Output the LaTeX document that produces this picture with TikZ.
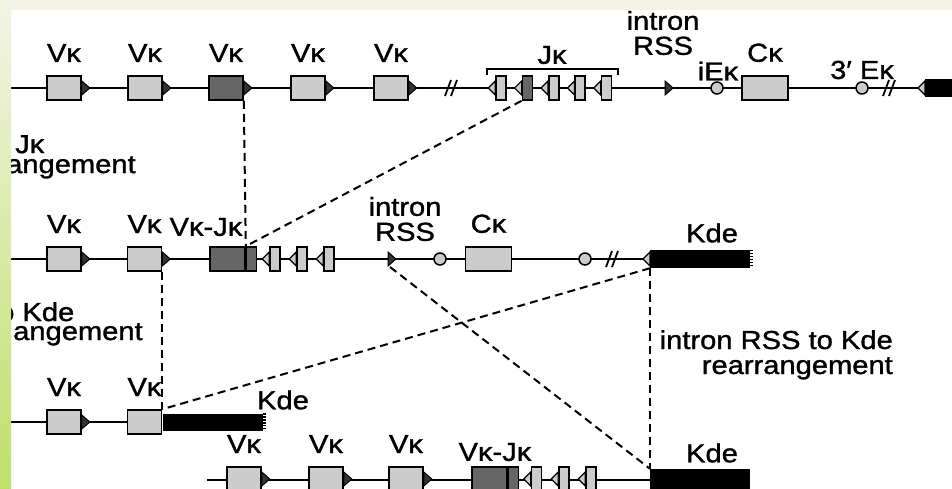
\documentclass[tikz,border=0pt]{standalone}
\usepackage{fontspec}
\setmainfont{Liberation Sans}[FakeStretch=1.12, FakeBold=1.2]
\usetikzlibrary{positioning}

\definecolor{exonlight}{gray}{0.80}
\definecolor{exondark}{gray}{0.40}
\definecolor{slidegreen}{RGB}{190,224,105}
\definecolor{slidetop}{RGB}{243,244,230}

\begin{document}
\begin{tikzpicture}[
  x=1pt, y=-1pt,
  font=\fontsize{26}{25}\selectfont,
  dna/.style={line width=2pt},
  vseg/.style={draw, line width=1.6pt, fill=exonlight, minimum width=34pt, minimum height=24pt, inner sep=0pt},
  vdark/.style={vseg, fill=exondark},
  jseg/.style={vseg, minimum width=10pt},
  jdark/.style={jseg, fill=exondark},
  cseg/.style={vseg, minimum width=46pt},
  kde/.style={fill=black, minimum width=100pt, minimum height=18pt, inner sep=0pt, anchor=west},
  enh/.style={circle, draw, line width=1.5pt, fill=exonlight, minimum size=12pt, inner sep=0pt},
  link/.style={line width=2pt, dash pattern=on 8pt off 5pt},
  lbl/.style={inner sep=0pt},
  rssr/.pic={\filldraw[line width=1pt, fill=black!80] (0,-7) -- (8,0) -- (0,7) -- cycle;},
  rssl/.pic={\filldraw[line width=1.2pt, fill=exonlight] (0,-7) -- (-7,0) -- (0,7) -- cycle;},
  brk/.pic={\draw[line width=1.8pt] (-7,8) -- (-1,-8) (-1,8) -- (5,-8);}
]
\useasboundingbox (0,0) rectangle (952,489);
\fill[white] (0,0) rectangle (952,489);

% germline locus
\draw[dna] (11,88) -- (925,88);
\foreach \x/\n/\s in {64/1/vseg,145/2/vseg,226/3/vdark,308/4/vseg,391/5/vseg} {
  \node[\s] (v1\n) at (\x,88) {};
  \pic at (v1\n.east) {rssr};
  \node[lbl, above=13pt of v1\n] {Vκ};
}
\pic at (452,88) {brk};
\foreach \k/\s in {0/jseg,1/jdark,2/jseg,3/jseg,4/jseg} {
  \node[\s] (j1\k) at ({501+26.4*\k},88) {};
  \pic at (j1\k.west) {rssl};
}
\draw[line width=1.6pt] (487,75) -- (487,69) -- (618,69) -- (618,75);
\node[lbl] at (552,55) {Jκ};
\pic at (665,88) {rssr};
\node[lbl, align=center] at (663,33) {intron\\RSS};
\node[enh] (ie1) at (717,88) {};
\node[lbl] at (718,71) {iEκ};
\node[cseg] (c1) at (765,88) {};
\node[lbl, above=13pt of c1] {Cκ};
\node[enh] (e31) at (862,88) {};
\node[lbl] at (862,70) {3′ Eκ};
\pic at (890,88) {brk};
\pic at (925,88) {rssl};
\node[kde, minimum width=30pt] (kde1) at (925,88) {};

% V-J rearranged
\draw[dna] (11,259) -- (650,259);
\foreach \x/\n in {64/1,144.5/2} {
  \node[vseg] (v2\n) at (\x,259) {};
  \pic at (v2\n.east) {rssr};
  \node[lbl, above=13pt of v2\n] {Vκ};
}
\node[vdark, minimum width=35pt] (vj2v) at (227.5,259) {};
\node[jdark, right=0pt of vj2v] (vj2j) {};
\node[lbl] at (206,227) {Vκ-Jκ};
\foreach \x/\n in {275/1,302/2,329/3} {
  \node[jseg] (j2\n) at (\x,259) {};
  \pic at (j2\n.west) {rssl};
}
\pic at (388,259) {rssr};
\coordinate (irss2) at (390,267);
\node[lbl, align=center] at (405,219) {intron\\RSS};
\node[enh] (ie2) at (440,259) {};
\node[cseg] (c2) at (488.5,259) {};
\node[lbl, above=13pt of c2] {Cκ};
\node[enh] (e32) at (585,259) {};
\pic at (613,259) {brk};
\pic at (650,259) {rssl};
\node[kde] (kde2) at (650,259) {};
\foreach \k in {0,...,5} \fill (kde2.north east) ++(0,{3*\k}) rectangle ++(3,1.5);
\node[lbl] at (712,233) {Kde};

% V to Kde
\draw[dna] (11,422) -- (144.5,422);
\node[vseg] (v31) at (64,422) {};
\pic at (v31.east) {rssr};
\node[vseg] (v32) at (144.5,422) {};
\node[lbl, above=13pt of v31] {Vκ};
\node[lbl, above=13pt of v32] {Vκ};
\node[kde, minimum height=17pt] (kde3) at (v32.east) {};
\foreach \k in {0,...,5} \fill (kde3.north east) ++(0,{2.9*\k}) rectangle ++(3,1.5);
\node[lbl] at (283,400) {Kde};

% intron RSS to Kde
\draw[dna] (207,480) -- (650,480);
\foreach \x/\n in {244/1,326/2,406/3} {
  \node[vseg] (v4\n) at (\x,479) {};
  \pic at (v4\n.east) {rssr};
  \node[lbl, above=13pt of v4\n] {Vκ};
}
\node[vdark, minimum width=35pt] (vj4v) at (489.5,479) {};
\node[jdark, right=0pt of vj4v] (vj4j) {};
\node[lbl] at (495,452) {Vκ-Jκ};
\foreach \x/\n in {536.5/1,564/2,591/3} {
  \node[jseg] (j4\n) at (\x,479) {};
  \pic at (j4\n.west) {rssl};
}
\node[kde, minimum height=22pt] (kde4) at (650,480) {};
\node[lbl] at (712,453) {Kde};

\draw[link] (v13.south east) -- (vj2v.north east);
\draw[link] (j11.south west) -- (vj2v.north east);
\draw[link] (v22.south east) -- (v32.north east);
\draw[link] (kde2.south west) -- (v32.north east);
\draw[link] (irss2) -- (kde4.north west);
\draw[link] (kde2.south west) -- (kde4.north west);

\node[lbl, anchor=base east] at (893,349) {intron RSS to Kde};
\node[lbl, anchor=base east] at (893,374) {rearrangement};
\node[lbl, align=left, anchor=north west, font=\fontsize{26}{20}\selectfont] (leftvj) at (6,135) {\hspace*{9pt}Jκ\\angement};
\node[lbl, align=left, anchor=north west, font=\fontsize{26}{19}\selectfont] (leftkde) at (-2,302) {o Kde\\\hspace*{15pt}angement};

% slide border
\fill[slidetop] (0,0) rectangle (952,10);
\shade[top color=slidetop, bottom color=slidegreen] (0,0) rectangle (11,489);
\end{tikzpicture}
\end{document}
